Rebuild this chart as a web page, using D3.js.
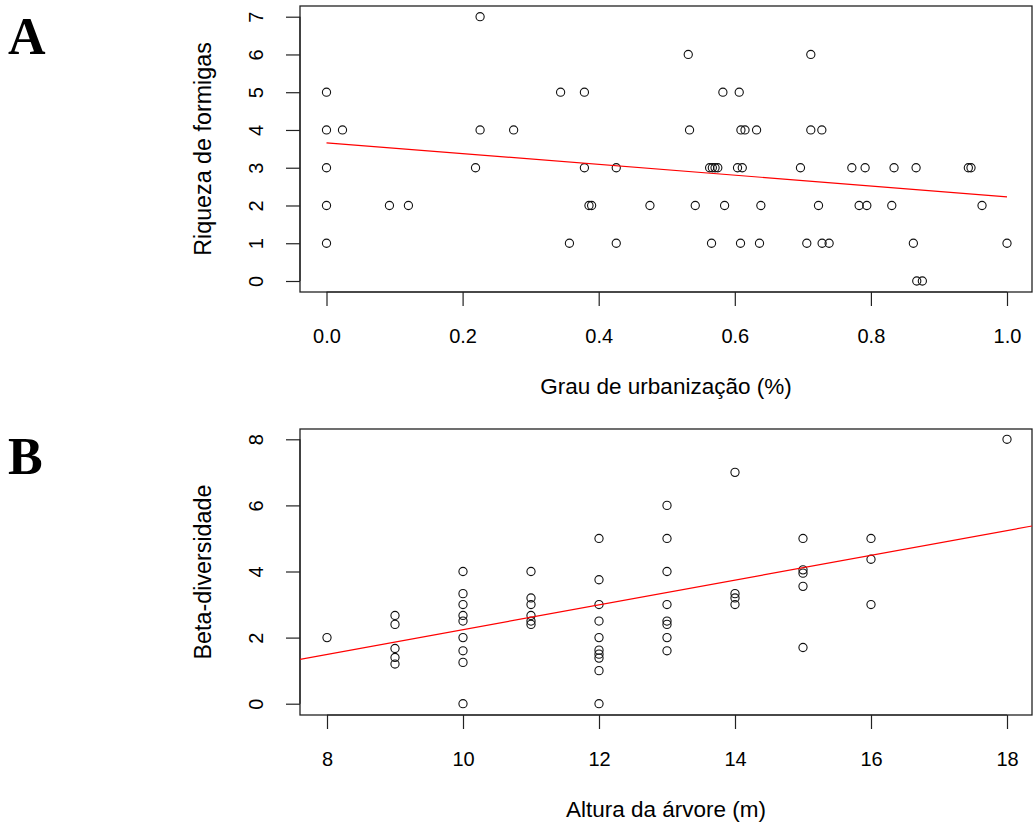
<!DOCTYPE html>
<html>
<head>
<meta charset="utf-8">
<script src="https://cdn.jsdelivr.net/npm/d3@7"></script>
<style>
  html, body { margin: 0; padding: 0; background: #fff; }
  svg { display: block; }
  text { font-family: "Liberation Sans", Arial, sans-serif; fill: #000; }
  text.letter { font-family: "Liberation Serif", "Times New Roman", serif; font-weight: bold; }
</style>
</head>
<body>
<svg id="chart" width="1033" height="830"></svg>
<script>
// ---------- Panel A data ----------
const urbanizacao = [0,0,0,0,0, 0.0235, 0.0925, 0.1204, 0.219, 0.2257, 0.2257, 0.275, 0.344, 0.357, 0.379, 0.379,
  0.3857, 0.3896, 0.4258, 0.4258, 0.4753, 0.5316, 0.5335, 0.5419, 0.563, 0.567, 0.571, 0.575, 0.5658, 0.5825, 0.585,
  0.604, 0.611, 0.6065, 0.609, 0.615, 0.6084, 0.632, 0.6363, 0.6383, 0.6965, 0.7058, 0.7117, 0.7117, 0.7230, 0.7279,
  0.7283, 0.7386, 0.772, 0.7827, 0.7915, 0.794, 0.8307, 0.834, 0.8624, 0.8664, 0.8674, 0.8756, 0.9432, 0.9471, 0.9633, 1.0];
const riqueza = [5,4,3,2,1, 4, 2, 2, 3, 7, 4, 4, 5, 1, 5, 3,
  2, 2, 3, 1, 2, 6, 4, 2, 3, 3, 3, 3, 1, 5, 2,
  3, 3, 5, 4, 4, 1, 4, 1, 2, 3, 1, 6, 4, 2, 4,
  1, 1, 3, 2, 3, 2, 2, 3, 1, 3, 0, 0, 3, 3, 2, 1];
const ticksA_x = [0.0, 0.2, 0.4, 0.6, 0.8, 1.0];
const ticksA_y = [0, 1, 2, 3, 4, 5, 6, 7];
const fitA_intercept = 3.66, fitA_slope = -1.43;

// ---------- Panel B data ----------
const altura = [8,
  9,9,9,9,9,
  10,10,10,10,10,10,10,10,10,
  11,11,11,11,11,11,
  12,12,12,12,12,12,12,12,12,12,
  13,13,13,13,13,13,13,13,
  14,14,14,14,
  15,15,15,15,15,
  16,16,16,
  18];
const betaDiv = [2.0,
  2.67, 2.4, 1.67, 1.4, 1.2,
  4.0, 3.33, 3.0, 2.67, 2.5, 2.0, 1.6, 1.25, 0,
  4.0, 3.2, 3.0, 2.67, 2.5, 2.4,
  5.0, 3.75, 3.0, 2.5, 2.0, 1.62, 1.5, 1.38, 1.0, 0,
  6.0, 5.0, 4.0, 3.0, 2.5, 2.4, 2.0, 1.6,
  7.0, 3.33, 3.2, 3.0,
  5.0, 4.05, 3.95, 3.55, 1.7,
  5.0, 4.37, 3.0,
  8.0];
const ticksB_x = [8, 10, 12, 14, 16, 18];
const ticksB_y = [0, 2, 4, 6, 8];
const fitB_intercept = -1.506, fitB_slope = 0.3747;

// ---------- drawing ----------
const svg = d3.select("#chart");
svg.append("rect").attr("width", 1033).attr("height", 830).attr("fill", "#fff");

function panel(cfg) {
  const g = svg.append("g");
  const { box, xs, ys } = cfg;
  const clipId = "clip" + cfg.id;
  svg.append("defs").append("clipPath").attr("id", clipId)
    .append("rect").attr("x", box.x0).attr("y", box.y0)
    .attr("width", box.x1 - box.x0).attr("height", box.y1 - box.y0);

  // x axis
  const xAxis = d3.axisBottom(xs).tickValues(cfg.xTicks).tickSize(14).tickSizeOuter(0)
    .tickFormat(cfg.xFmt);
  const gx = g.append("g").attr("transform", `translate(0,${box.y1})`).call(xAxis);
  gx.select(".domain").attr("d", `M${xs(cfg.xTicks[0])},0H${xs(cfg.xTicks[cfg.xTicks.length-1])}`)
    .attr("stroke", "#222").attr("stroke-width", 1.2);
  gx.selectAll(".tick line").attr("stroke", "#222").attr("stroke-width", 1.2);
  gx.selectAll(".tick text").attr("y", 51).attr("dy", null)
    .attr("font-size", 20).attr("fill", "#000");

  // y axis
  const yAxis = d3.axisLeft(ys).tickValues(cfg.yTicks).tickSize(14).tickSizeOuter(0)
    .tickFormat(d3.format("d"));
  const gy = g.append("g").attr("transform", `translate(${box.x0},0)`).call(yAxis);
  gy.select(".domain").attr("d", `M0,${ys(cfg.yTicks[0])}V${ys(cfg.yTicks[cfg.yTicks.length-1])}`)
    .attr("stroke", "#222").attr("stroke-width", 1.2);
  gy.selectAll(".tick line").attr("stroke", "#222").attr("stroke-width", 1.2);
  gy.selectAll(".tick text")
    .attr("x", null).attr("dy", null)
    .attr("text-anchor", "middle")
    .attr("transform", "translate(-44,0) rotate(-90)")
    .attr("dy", "0.36em")
    .attr("font-size", 20).attr("fill", "#000");

  // box
  g.append("rect").attr("x", box.x0).attr("y", box.y0)
    .attr("width", box.x1 - box.x0).attr("height", box.y1 - box.y0)
    .attr("fill", "none").attr("stroke", "#222").attr("stroke-width", 1.3);

  // points
  g.append("g").selectAll("circle").data(cfg.xData.map((x, i) => [x, cfg.yData[i]]))
    .join("circle")
    .attr("cx", d => xs(d[0])).attr("cy", d => ys(d[1])).attr("r", 4.1)
    .attr("fill", "none").attr("stroke", "#111").attr("stroke-width", 1.1);

  // fit line
  const line = d3.line().x(d => xs(d[0])).y(d => ys(d[1]));
  g.append("path")
    .attr("clip-path", `url(#${clipId})`)
    .attr("d", line(cfg.lineX.map(x => [x, cfg.b0 + cfg.b1 * x])))
    .attr("fill", "none").attr("stroke", "#ff0000").attr("stroke-width", 1.2);

  // titles
  g.append("text").attr("x", (box.x0 + box.x1) / 2).attr("y", box.y1 + 102)
    .attr("text-anchor", "middle").attr("font-size", 22.5).text(cfg.xTitle);
  g.append("text")
    .attr("transform", `translate(203,${(box.y0 + box.y1) / 2}) rotate(-90)`)
    .attr("text-anchor", "middle").attr("dy", "0.36em").attr("font-size", 23.3).text(cfg.yTitle);

  // panel letter
  svg.append("text").attr("class", "letter").attr("x", 8).attr("y", cfg.letterY)
    .attr("font-size", 52).text(cfg.letter);
}

// Panel A
const xA = d3.scaleLinear().domain([0, 1]).range([326.5, 1007]);
const yA = d3.scaleLinear().domain([0, 7]).range([281, 16.7]);
panel({
  id: "A", letter: "A", letterY: 54,
  box: { x0: 300, x1: 1032, y0: 6, y1: 292 },
  xs: xA, ys: yA, xTicks: ticksA_x, yTicks: ticksA_y, xFmt: d3.format(".1f"),
  xData: urbanizacao, yData: riqueza,
  b0: fitA_intercept, b1: fitA_slope, lineX: [0, 1],
  xTitle: "Grau de urbanização (%)", yTitle: "Riqueza de formigas"
});

// Panel B
const xB = d3.scaleLinear().domain([8, 18]).range([327, 1007]);
const yB = d3.scaleLinear().domain([0, 8]).range([703.7, 439.3]);
panel({
  id: "B", letter: "B", letterY: 474,
  box: { x0: 300, x1: 1032, y0: 429, y1: 715 },
  xs: xB, ys: yB, xTicks: ticksB_x, yTicks: ticksB_y, xFmt: d3.format("d"),
  xData: altura, yData: betaDiv,
  b0: fitB_intercept, b1: fitB_slope, lineX: [xB.invert(300), xB.invert(1032)],
  xTitle: "Altura da árvore (m)", yTitle: "Beta-diversidade"
});
</script>
</body>
</html>
